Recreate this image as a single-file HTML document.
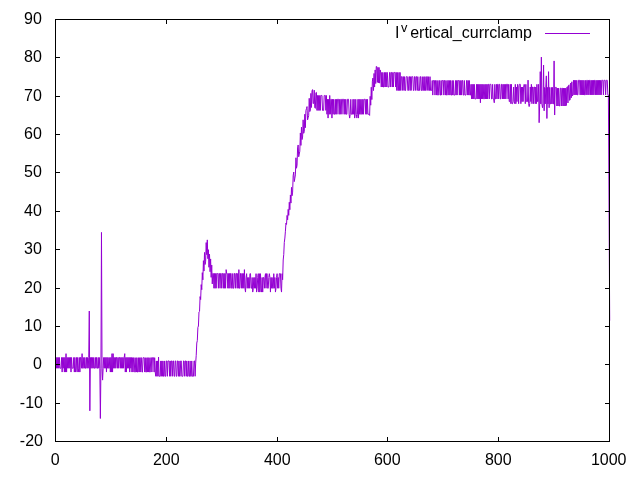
<!DOCTYPE html>
<html><head><meta charset="utf-8"><style>
html,body{margin:0;padding:0;background:#fff;width:640px;height:480px;overflow:hidden}
svg{display:block}
text{font-family:"Liberation Sans",sans-serif;font-size:16px;fill:#000}
.t{filter:grayscale(1)}
</style></head><body>
<svg width="640" height="480" viewBox="0 0 640 480">
<rect width="640" height="480" fill="#fff"/>
<polyline points="55.50,368.23 56.05,357.48 56.61,368.23 57.16,357.48 57.72,368.23 58.27,357.48 58.82,368.23 59.38,357.48 59.93,368.23 60.49,368.23 61.04,368.23 61.59,357.48 62.15,372.06 62.70,357.48 63.26,368.23 63.81,357.48 64.36,372.06 64.92,357.48 65.47,372.06 66.03,353.65 66.58,372.06 67.13,357.48 67.69,368.23 68.24,357.48 68.80,368.23 69.35,357.48 69.90,368.23 70.46,357.48 71.01,372.06 71.57,357.48 72.12,368.23 72.67,368.23 73.23,368.23 73.78,357.48 74.34,372.06 74.89,357.48 75.44,372.06 76.00,368.23 76.55,357.48 77.11,372.06 77.66,357.48 78.21,368.23 78.77,372.06 79.32,357.48 79.88,372.06 80.43,357.48 80.98,357.48 81.54,368.23 82.09,353.65 82.65,368.23 83.20,368.23 83.75,357.48 84.31,368.23 84.86,357.48 85.42,368.23 85.97,368.23 86.52,357.48 87.08,368.23 87.63,357.48 88.19,368.23 88.74,357.48 89.29,311.06 89.85,410.81 90.40,357.48 90.96,368.23 91.51,357.48 92.06,368.23 92.62,357.48 93.17,368.23 93.73,357.48 94.28,368.23 94.83,368.23 95.39,357.48 95.94,368.23 96.50,357.48 97.05,368.23 97.60,368.23 98.16,357.48 98.71,368.23 99.27,357.48 99.82,368.23 100.37,418.48 100.93,368.23 101.48,232.42 102.04,368.23 102.59,380.12 103.14,368.23 103.70,357.48 104.25,368.23 104.81,357.48 105.36,368.23 105.91,357.48 106.47,372.06 107.02,357.48 107.58,368.23 108.13,357.48 108.68,368.23 109.24,368.23 109.79,357.48 110.35,372.06 110.90,357.48 111.45,372.06 112.01,353.65 112.56,372.06 113.12,353.65 113.67,368.23 114.22,357.48 114.78,368.23 115.33,357.48 115.89,368.23 116.44,357.48 116.99,357.48 117.55,368.23 118.10,357.48 118.66,368.23 119.21,357.48 119.76,357.48 120.32,368.23 120.87,357.48 121.43,368.23 121.98,357.48 122.53,368.23 123.09,357.48 123.64,368.23 124.20,357.48 124.75,353.65 125.30,372.06 125.86,357.48 126.41,372.06 126.97,357.48 127.52,368.23 128.07,357.48 128.63,368.23 129.18,357.48 129.74,372.06 130.29,357.48 130.84,368.23 131.40,357.48 131.95,372.06 132.51,357.68 133.06,372.06 133.61,357.68 134.17,357.68 134.72,372.06 135.28,372.06 135.83,357.68 136.38,372.06 136.94,357.68 137.49,372.06 138.05,372.06 138.60,357.68 139.15,372.06 139.71,357.68 140.26,372.06 140.82,357.68 141.37,357.68 141.92,372.06 142.48,372.06 143.03,357.68 143.59,357.68 144.14,357.68 144.69,372.06 145.25,357.68 145.80,372.06 146.36,372.06 146.91,357.68 147.46,372.06 148.02,357.68 148.57,372.06 149.13,357.68 149.68,372.06 150.23,372.06 150.79,357.68 151.34,357.68 151.90,372.06 152.45,357.68 153.00,357.68 153.56,357.68 154.11,372.06 154.67,357.68 155.22,372.06 155.77,376.28 156.33,360.94 156.88,376.28 157.44,360.94 157.99,376.28 158.54,357.10 159.10,376.28 159.65,376.28 160.21,376.28 160.76,360.94 161.31,376.28 161.87,360.94 162.42,376.28 162.98,360.94 163.53,376.28 164.08,376.28 164.64,360.94 165.19,376.28 165.75,376.28 166.30,360.94 166.85,360.94 167.41,376.28 167.96,360.94 168.52,360.94 169.07,360.94 169.62,376.28 170.18,360.94 170.73,376.28 171.29,360.94 171.84,360.94 172.39,376.28 172.95,360.94 173.50,360.94 174.06,376.28 174.61,376.28 175.16,360.94 175.72,360.94 176.27,376.28 176.83,376.28 177.38,360.94 177.93,360.94 178.49,376.28 179.04,360.94 179.60,376.28 180.15,376.28 180.70,360.94 181.26,360.94 181.81,376.28 182.37,376.28 182.92,376.28 183.47,360.94 184.03,360.94 184.58,376.28 185.14,360.94 185.69,360.94 186.24,376.28 186.80,360.94 187.35,376.28 187.91,376.28 188.46,360.94 189.01,376.28 189.57,376.28 190.12,360.94 190.68,376.28 191.23,376.28 191.78,360.94 192.34,376.28 192.89,376.28 193.45,376.28 194.00,360.94 194.55,360.94 195.11,376.28 195.66,363.07 196.22,355.27 196.77,343.04 197.32,340.64 197.88,327.46 198.43,326.01 198.99,311.89 199.54,311.38 200.09,296.62 200.65,299.55 201.20,284.64 201.76,289.70 202.31,272.67 202.86,279.85 203.42,260.69 203.97,271.06 204.53,252.45 205.08,264.50 205.63,261.21 206.19,242.58 206.74,254.63 207.30,239.89 207.85,258.70 208.40,249.70 208.96,267.27 209.51,254.16 210.07,271.74 210.62,258.95 211.17,277.35 211.73,265.06 212.28,283.95 212.84,273.47 213.39,273.47 213.94,288.24 214.50,273.47 215.05,288.24 215.61,273.47 216.16,288.24 216.71,273.47 217.27,273.47 217.82,273.47 218.38,288.24 218.93,273.47 219.48,273.47 220.04,288.24 220.59,273.47 221.15,273.47 221.70,288.24 222.25,273.47 222.81,273.47 223.36,288.24 223.92,273.47 224.47,288.24 225.02,273.47 225.58,288.24 226.13,269.63 226.69,273.47 227.24,273.47 227.79,288.24 228.35,273.47 228.90,288.24 229.46,273.47 230.01,288.24 230.56,273.47 231.12,273.47 231.67,288.24 232.23,288.24 232.78,273.47 233.33,288.24 233.89,288.24 234.44,273.47 235.00,273.47 235.55,288.24 236.10,273.47 236.66,273.47 237.21,288.24 237.77,273.47 238.32,288.24 238.87,269.63 239.43,288.24 239.98,288.24 240.54,273.47 241.09,273.47 241.64,288.24 242.20,273.47 242.75,288.24 243.31,273.47 243.86,288.24 244.41,269.63 244.97,288.24 245.52,292.07 246.08,277.50 246.63,273.66 247.18,288.24 247.74,277.50 248.29,288.24 248.85,277.50 249.40,288.24 249.95,273.66 250.51,273.66 251.06,288.24 251.62,288.24 252.17,277.50 252.72,292.07 253.28,288.24 253.83,277.50 254.39,288.24 254.94,277.50 255.49,288.24 256.05,273.66 256.60,292.07 257.16,288.24 257.71,277.50 258.26,273.66 258.82,292.07 259.37,273.66 259.93,292.07 260.48,273.66 261.03,288.24 261.59,292.07 262.14,277.50 262.70,292.07 263.25,277.50 263.80,277.50 264.36,288.24 264.91,277.50 265.47,273.66 266.02,288.24 266.57,273.66 267.13,273.66 267.68,288.24 268.24,288.24 268.79,277.50 269.34,273.66 269.90,277.50 270.45,292.07 271.01,277.50 271.56,288.24 272.11,277.50 272.67,288.24 273.22,288.24 273.78,273.66 274.33,288.24 274.88,277.50 275.44,292.07 275.99,288.24 276.55,277.50 277.10,273.66 277.65,288.24 278.21,277.50 278.76,288.24 279.32,273.66 279.87,273.66 280.42,273.66 280.98,288.24 281.53,292.07 282.09,273.66 282.64,279.70 283.19,260.01 283.75,254.40 284.30,242.37 284.86,238.06 285.41,231.22 285.96,223.07 286.52,224.43 287.07,215.43 287.63,219.81 288.18,209.38 288.73,215.36 289.29,202.26 289.84,209.72 290.40,194.98 290.95,203.08 291.50,187.35 292.06,195.78 292.61,192.13 293.17,175.76 293.72,172.02 294.27,181.61 294.83,178.26 295.38,174.91 295.94,157.78 296.49,168.22 297.04,165.21 297.60,147.98 298.15,144.97 298.71,156.80 299.26,154.00 299.81,151.20 300.37,132.98 300.92,145.42 301.48,127.17 302.03,139.60 302.58,137.04 303.14,119.83 303.69,133.31 304.25,131.44 304.80,114.23 305.35,127.71 305.91,110.50 306.46,108.63 307.02,106.58 307.57,119.86 308.12,117.80 308.68,115.73 309.23,98.32 309.79,111.60 310.34,110.02 310.89,93.40 311.45,107.47 312.00,90.85 312.56,89.58 313.11,103.65 313.66,103.38 314.22,90.16 314.77,107.63 315.33,108.34 315.88,92.71 316.43,92.42 316.99,110.42 317.54,95.46 318.10,110.42 318.65,95.46 319.20,110.42 319.76,95.46 320.31,110.42 320.87,95.46 321.42,95.46 321.97,95.46 322.53,110.42 323.08,110.42 323.64,110.42 324.19,95.46 324.74,95.46 325.30,95.46 325.85,110.42 326.41,95.46 326.96,114.26 327.51,99.30 328.07,118.09 328.62,99.30 329.18,114.26 329.73,95.46 330.28,114.26 330.84,99.30 331.39,99.30 331.95,118.09 332.50,99.30 333.05,114.26 333.61,99.30 334.16,114.26 334.72,114.26 335.27,99.30 335.82,114.26 336.38,99.30 336.93,114.26 337.49,99.30 338.04,99.30 338.59,99.30 339.15,114.26 339.70,99.30 340.26,114.26 340.81,99.30 341.36,99.30 341.92,114.26 342.47,99.30 343.03,99.30 343.58,99.30 344.13,114.26 344.69,99.30 345.24,114.26 345.80,99.30 346.35,114.26 346.90,114.26 347.46,99.30 348.01,99.30 348.57,99.30 349.12,114.26 349.67,118.09 350.23,114.26 350.78,99.30 351.34,114.26 351.89,114.26 352.44,114.26 353.00,99.30 353.55,114.26 354.11,99.30 354.66,118.09 355.21,114.26 355.77,99.30 356.32,114.26 356.88,118.09 357.43,114.26 357.98,99.30 358.54,118.09 359.09,99.30 359.65,114.26 360.20,99.30 360.75,114.26 361.31,114.26 361.86,99.30 362.42,114.26 362.97,99.30 363.52,114.26 364.08,99.30 364.63,99.30 365.19,99.30 365.74,114.26 366.29,99.30 366.85,114.26 367.40,99.30 367.96,114.26 368.51,114.26 369.06,114.26 369.62,115.41 370.17,96.34 370.73,105.21 371.28,87.21 371.83,99.57 372.39,81.14 372.94,78.06 373.50,90.55 374.05,73.45 374.60,87.03 375.16,69.93 375.71,83.52 376.27,66.41 376.82,66.66 377.37,82.38 377.93,67.41 378.48,82.80 379.04,67.45 379.59,83.15 380.14,69.93 380.70,72.05 381.25,87.02 381.81,72.44 382.36,87.02 382.91,72.44 383.47,87.02 384.02,87.02 384.58,72.44 385.13,87.02 385.68,72.44 386.24,87.02 386.79,72.44 387.35,72.44 387.90,87.02 388.45,87.02 389.01,87.02 389.56,72.44 390.12,72.44 390.67,87.02 391.22,72.44 391.78,72.44 392.33,87.02 392.89,72.44 393.44,87.02 393.99,72.44 394.55,72.44 395.10,72.44 395.66,87.02 396.21,72.44 396.76,90.47 397.32,72.44 397.87,90.47 398.43,90.47 398.98,72.44 399.53,90.47 400.09,72.44 400.64,90.47 401.20,76.66 401.75,76.66 402.30,90.47 402.86,76.66 403.41,76.66 403.97,90.47 404.52,76.66 405.07,90.47 405.63,90.47 406.18,76.66 406.74,76.66 407.29,76.66 407.84,90.47 408.40,90.47 408.95,76.66 409.51,76.66 410.06,90.47 410.61,76.66 411.17,90.47 411.72,76.66 412.28,76.66 412.83,76.66 413.38,90.47 413.94,90.47 414.49,76.66 415.05,76.66 415.60,90.47 416.15,76.66 416.71,76.66 417.26,90.47 417.82,76.66 418.37,90.47 418.92,90.47 419.48,90.47 420.03,76.66 420.59,76.66 421.14,90.47 421.69,90.47 422.25,76.66 422.80,90.47 423.36,90.47 423.91,76.66 424.46,90.47 425.02,76.66 425.57,90.47 426.13,90.47 426.68,76.66 427.23,76.66 427.79,90.47 428.34,76.66 428.90,90.47 429.45,90.47 430.00,76.66 430.56,90.47 431.11,90.47 431.67,90.47 432.22,80.50 432.77,95.08 433.33,80.50 433.88,80.50 434.44,80.50 434.99,95.08 435.54,80.50 436.10,80.50 436.65,95.08 437.21,80.50 437.76,95.08 438.31,95.08 438.87,80.50 439.42,80.50 439.98,95.08 440.53,95.08 441.08,80.50 441.64,95.08 442.19,80.50 442.75,80.50 443.30,80.50 443.85,95.08 444.41,80.50 444.96,80.50 445.52,95.08 446.07,80.50 446.62,95.08 447.18,95.08 447.73,80.50 448.29,80.50 448.84,95.08 449.39,80.50 449.95,95.08 450.50,80.50 451.06,95.08 451.61,95.08 452.16,80.50 452.72,95.08 453.27,80.50 453.83,95.08 454.38,95.08 454.93,95.08 455.49,80.50 456.04,95.08 456.60,80.50 457.15,95.08 457.70,80.50 458.26,80.50 458.81,80.50 459.37,95.08 459.92,80.50 460.47,95.08 461.03,80.50 461.58,95.08 462.14,80.50 462.69,80.50 463.24,95.08 463.80,95.08 464.35,80.50 464.91,95.08 465.46,95.08 466.01,95.08 466.57,80.50 467.12,80.50 467.68,95.08 468.23,80.50 468.78,95.08 469.34,80.50 469.89,95.08 470.45,95.08 471.00,84.33 471.55,98.91 472.11,84.33 472.66,98.91 473.22,84.33 473.77,98.91 474.32,84.33 474.88,98.91 475.43,98.91 475.99,98.91 476.54,84.33 477.09,98.91 477.65,84.33 478.20,98.91 478.76,84.33 479.31,98.91 479.86,84.33 480.42,102.75 480.97,84.33 481.53,98.91 482.08,84.33 482.63,98.91 483.19,84.33 483.74,98.91 484.30,98.91 484.85,84.33 485.40,98.91 485.96,84.33 486.51,98.91 487.07,84.33 487.62,98.91 488.17,84.33 488.73,84.33 489.28,98.91 489.84,84.33 490.39,84.33 490.94,84.33 491.50,98.91 492.05,98.91 492.61,84.33 493.16,98.91 493.71,98.91 494.27,102.75 494.82,84.33 495.38,98.91 495.93,98.91 496.48,84.33 497.04,98.91 497.59,84.33 498.15,84.33 498.70,98.91 499.25,84.33 499.81,84.33 500.36,98.91 500.92,98.91 501.47,84.33 502.02,84.33 502.58,98.91 503.13,84.33 503.69,98.91 504.24,84.33 504.79,98.91 505.35,84.33 505.90,98.91 506.46,84.33 507.01,84.33 507.56,84.33 508.12,98.91 508.67,84.33 509.23,101.60 509.78,101.60 510.33,84.33 510.89,103.71 511.44,84.33 512.00,103.71 512.55,103.71 513.10,101.60 513.66,87.02 514.21,101.60 514.77,103.71 515.32,84.33 515.87,103.71 516.43,87.02 516.98,101.60 517.54,84.33 518.09,87.02 518.64,103.71 519.20,84.33 519.75,84.33 520.31,84.33 520.86,103.71 521.41,87.02 521.97,101.60 522.52,87.02 523.08,101.60 523.63,87.02 524.18,84.33 524.74,87.02 525.29,103.71 525.85,84.33 526.40,101.60 526.95,101.60 527.51,101.60 528.06,80.11 528.62,103.71 529.17,106.59 529.72,103.71 530.28,87.02 530.83,101.60 531.39,84.33 531.94,103.71 532.49,87.02 533.05,87.02 533.60,103.71 534.16,87.02 534.71,87.02 535.26,103.71 535.82,87.02 536.37,103.71 536.93,84.33 537.48,101.60 538.03,101.60 538.59,84.33 539.14,122.70 539.70,103.90 540.25,71.67 540.80,103.90 541.36,57.10 541.91,103.90 542.47,107.74 543.02,103.90 543.57,65.15 544.13,110.81 544.68,87.40 545.24,103.90 545.79,87.40 546.34,75.89 546.90,118.48 547.45,87.40 548.01,103.90 548.56,71.67 549.11,107.74 549.67,87.40 550.22,103.90 550.78,103.90 551.33,87.40 551.88,103.90 552.44,87.40 552.99,103.90 553.55,103.90 554.10,60.93 554.65,115.03 555.21,87.40 555.76,87.40 556.32,87.40 556.87,106.01 557.42,88.17 557.98,106.01 558.53,88.17 559.09,106.01 559.64,106.01 560.19,88.17 560.75,88.17 561.30,106.01 561.86,88.17 562.41,88.17 562.96,106.01 563.52,88.17 564.07,106.01 564.63,88.17 565.18,106.01 565.73,88.17 566.29,105.56 566.84,87.25 567.40,86.64 567.95,102.96 568.50,85.43 569.06,84.82 569.61,100.37 570.17,99.50 570.72,83.00 571.27,97.77 571.83,81.78 572.38,96.04 572.94,94.88 573.49,80.31 574.04,94.88 574.60,80.31 575.15,94.88 575.71,80.31 576.26,94.88 576.81,80.31 577.37,94.88 577.92,94.88 578.48,80.31 579.03,80.31 579.58,80.31 580.14,94.88 580.69,80.31 581.25,94.88 581.80,80.31 582.35,94.88 582.91,80.31 583.46,94.88 584.02,80.31 584.57,94.88 585.12,94.88 585.68,80.31 586.23,94.88 586.79,80.31 587.34,80.31 587.89,94.88 588.45,80.31 589.00,94.88 589.56,80.31 590.11,80.31 590.66,94.88 591.22,80.31 591.77,94.88 592.33,80.31 592.88,94.88 593.43,80.31 593.99,94.88 594.54,80.31 595.10,80.31 595.65,94.88 596.20,80.31 596.76,94.88 597.31,80.31 597.87,94.88 598.42,80.31 598.97,94.88 599.53,80.31 600.08,94.88 600.64,80.31 601.19,94.88 601.74,80.31 602.30,80.31 602.85,80.31 603.41,94.88 603.96,80.31 604.51,80.31 605.07,80.31 605.62,94.88 606.18,80.31 606.73,80.31 607.28,80.31 607.84,94.88 608.39,94.88 609.70,320.65" fill="none" stroke="#9400d3" stroke-width="1"/>
<g stroke="#000" stroke-width="1" fill="none" shape-rendering="crispEdges">
<rect x="55.5" y="19.5" width="554" height="422"/>
<path d="M55 19.5h5M605 19.5h4"/><path d="M55 57.5h5M605 57.5h4"/><path d="M55 96.5h5M605 96.5h4"/><path d="M55 134.5h5M605 134.5h4"/><path d="M55 172.5h5M605 172.5h4"/><path d="M55 211.5h5M605 211.5h4"/><path d="M55 249.5h5M605 249.5h4"/><path d="M55 288.5h5M605 288.5h4"/><path d="M55 326.5h5M605 326.5h4"/><path d="M55 364.5h5M605 364.5h4"/><path d="M55 403.5h5M605 403.5h4"/><path d="M55 441.5h5M605 441.5h4"/><path d="M55.5 441v-4M55.5 20v4"/><path d="M166.5 441v-4M166.5 20v4"/><path d="M277.5 441v-4M277.5 20v4"/><path d="M387.5 441v-4M387.5 20v4"/><path d="M498.5 441v-4M498.5 20v4"/><path d="M609.5 441v-4M609.5 20v4"/></g>
<g class="t">
<text x="41.9" y="24.1" text-anchor="end">90</text>
<text x="41.9" y="62.1" text-anchor="end">80</text>
<text x="41.9" y="101.1" text-anchor="end">70</text>
<text x="41.9" y="139.1" text-anchor="end">60</text>
<text x="41.9" y="177.1" text-anchor="end">50</text>
<text x="41.9" y="216.1" text-anchor="end">40</text>
<text x="41.9" y="254.1" text-anchor="end">30</text>
<text x="41.9" y="293.1" text-anchor="end">20</text>
<text x="41.9" y="331.1" text-anchor="end">10</text>
<text x="41.9" y="369.1" text-anchor="end">0</text>
<text x="42.95" y="408.1" text-anchor="end">-10</text>
<text x="42.95" y="446.1" text-anchor="end">-20</text>
<text x="55.3" y="465" text-anchor="middle">0</text>
<text x="166.3" y="465" text-anchor="middle">200</text>
<text x="277.3" y="465" text-anchor="middle">400</text>
<text x="387.3" y="465" text-anchor="middle">600</text>
<text x="498.3" y="465" text-anchor="middle">800</text>
<text x="608.6999999999999" y="465" text-anchor="middle">1000</text>

<text x="395" y="37.5">I<tspan font-size="12.8px" dx="1.6" dy="-6">v</tspan><tspan dx="2.7" dy="6">ertical_currclamp</tspan></text>
</g>
<path d="M545 33.5H590" stroke="#9400d3" stroke-width="1"/>
</svg>
</body></html>
